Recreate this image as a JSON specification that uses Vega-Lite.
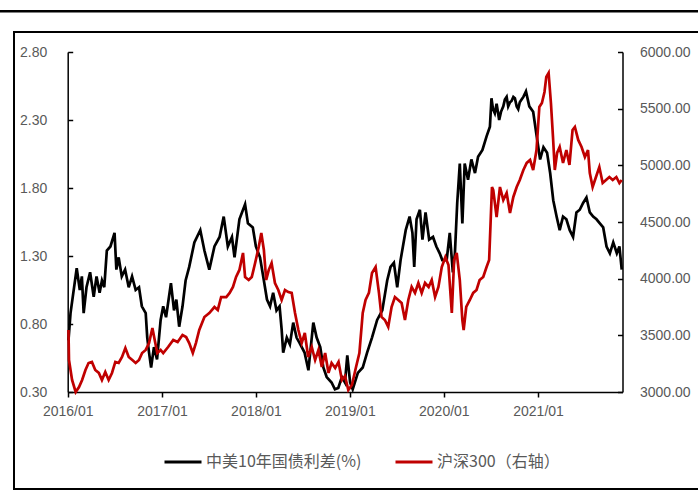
{
  "$schema": "https://vega.github.io/schema/vega-lite/v6.json",
  "width": 690,
  "height": 457,
  "autosize": {"type": "none"},
  "padding": {"left": 14, "top": 32, "right": 0, "bottom": 7},
  "background": "white",
  "config": {
    "view": {"stroke": "black", "strokeWidth": 2},
    "axis": {
      "grid": false,
      "domainColor": "black",
      "domainWidth": 1.5,
      "tickColor": "black",
      "tickWidth": 1.5,
      "labelColor": "#595959",
      "labelFontSize": 14,
      "labelFont": "Liberation Sans",
      "title": null
    }
  },
  "datasets": {
    "spread": [
      {"date":"2016-01-04","v":0.68},{"date":"2016-01-12","v":0.88},{"date":"2016-02-05","v":1.21},{"date":"2016-02-17","v":1.05},{"date":"2016-02-25","v":1.15},{"date":"2016-03-03","v":0.88},{"date":"2016-03-14","v":1.07},{"date":"2016-03-28","v":1.18},{"date":"2016-04-11","v":1.00},{"date":"2016-04-22","v":1.15},{"date":"2016-05-04","v":1.03},{"date":"2016-05-13","v":1.12},{"date":"2016-05-22","v":1.07},{"date":"2016-06-01","v":1.34},{"date":"2016-06-15","v":1.37},{"date":"2016-07-01","v":1.47},{"date":"2016-07-08","v":1.20},{"date":"2016-07-17","v":1.29},{"date":"2016-07-29","v":1.15},{"date":"2016-08-11","v":1.20},{"date":"2016-08-25","v":1.07},{"date":"2016-09-07","v":1.15},{"date":"2016-09-21","v":1.05},{"date":"2016-10-04","v":1.07},{"date":"2016-10-15","v":0.93},{"date":"2016-10-30","v":0.88},{"date":"2016-11-05","v":0.70},{"date":"2016-11-12","v":0.59},{"date":"2016-11-20","v":0.48},{"date":"2016-12-01","v":0.63},{"date":"2016-12-13","v":0.54},{"date":"2016-12-27","v":0.83},
      {"date":"2017-01-06","v":0.93},{"date":"2017-01-17","v":0.85},{"date":"2017-02-05","v":1.10},{"date":"2017-02-17","v":0.90},{"date":"2017-02-26","v":0.98},{"date":"2017-03-09","v":0.78},{"date":"2017-03-22","v":0.93},{"date":"2017-04-03","v":1.12},{"date":"2017-04-17","v":1.22},{"date":"2017-05-07","v":1.40},{"date":"2017-05-30","v":1.49},{"date":"2017-06-15","v":1.34},{"date":"2017-07-04","v":1.20},{"date":"2017-07-24","v":1.37},{"date":"2017-08-13","v":1.44},{"date":"2017-08-29","v":1.59},{"date":"2017-09-14","v":1.37},{"date":"2017-09-30","v":1.44},{"date":"2017-10-10","v":1.29},{"date":"2017-10-29","v":1.57},{"date":"2017-11-20","v":1.68},{"date":"2017-12-01","v":1.54},{"date":"2017-12-20","v":1.51},
      {"date":"2018-01-01","v":1.37},{"date":"2018-01-17","v":1.29},{"date":"2018-02-01","v":1.12},{"date":"2018-02-13","v":0.98},{"date":"2018-02-25","v":0.93},{"date":"2018-03-09","v":1.03},{"date":"2018-03-22","v":0.90},{"date":"2018-04-03","v":0.93},{"date":"2018-04-11","v":0.76},{"date":"2018-04-17","v":0.59},{"date":"2018-05-01","v":0.70},{"date":"2018-05-13","v":0.65},{"date":"2018-05-26","v":0.81},{"date":"2018-06-08","v":0.70},{"date":"2018-06-20","v":0.66},{"date":"2018-07-09","v":0.59},{"date":"2018-07-24","v":0.46},{"date":"2018-08-12","v":0.81},{"date":"2018-08-25","v":0.70},{"date":"2018-09-08","v":0.63},{"date":"2018-09-20","v":0.48},{"date":"2018-10-03","v":0.41},{"date":"2018-10-22","v":0.37},{"date":"2018-11-04","v":0.32},{"date":"2018-11-17","v":0.33},{"date":"2018-12-01","v":0.41},{"date":"2018-12-13","v":0.37},{"date":"2018-12-22","v":0.57},
      {"date":"2019-01-02","v":0.37},{"date":"2019-01-12","v":0.32},{"date":"2019-02-01","v":0.44},{"date":"2019-02-20","v":0.48},{"date":"2019-03-09","v":0.59},{"date":"2019-03-28","v":0.70},{"date":"2019-04-17","v":0.83},{"date":"2019-05-07","v":0.90},{"date":"2019-05-26","v":1.12},{"date":"2019-06-08","v":1.22},{"date":"2019-06-21","v":1.25},{"date":"2019-07-04","v":1.07},{"date":"2019-07-17","v":1.27},{"date":"2019-08-06","v":1.49},{"date":"2019-08-21","v":1.59},{"date":"2019-09-01","v":1.47},{"date":"2019-09-08","v":1.22},{"date":"2019-09-17","v":1.57},{"date":"2019-09-30","v":1.64},{"date":"2019-10-10","v":1.42},{"date":"2019-10-22","v":1.62},{"date":"2019-11-05","v":1.42},{"date":"2019-11-20","v":1.44},{"date":"2019-12-03","v":1.37},{"date":"2019-12-16","v":1.32},{"date":"2019-12-26","v":1.27},
      {"date":"2020-01-12","v":1.27},{"date":"2020-01-24","v":1.47},{"date":"2020-02-05","v":1.18},{"date":"2020-02-13","v":1.32},{"date":"2020-02-22","v":1.69},{"date":"2020-03-03","v":1.98},{"date":"2020-03-13","v":1.54},{"date":"2020-03-22","v":1.98},{"date":"2020-04-04","v":1.86},{"date":"2020-04-17","v":2.01},{"date":"2020-05-01","v":1.91},{"date":"2020-05-13","v":2.03},{"date":"2020-05-30","v":2.08},{"date":"2020-06-15","v":2.18},{"date":"2020-06-28","v":2.25},{"date":"2020-07-04","v":2.46},{"date":"2020-07-10","v":2.38},{"date":"2020-07-17","v":2.35},{"date":"2020-07-24","v":2.42},{"date":"2020-08-03","v":2.30},{"date":"2020-08-10","v":2.36},{"date":"2020-08-19","v":2.40},{"date":"2020-08-25","v":2.45},{"date":"2020-09-01","v":2.47},{"date":"2020-09-07","v":2.40},{"date":"2020-09-14","v":2.43},{"date":"2020-09-20","v":2.44},{"date":"2020-09-27","v":2.47},{"date":"2020-10-03","v":2.46},{"date":"2020-10-10","v":2.40},{"date":"2020-10-16","v":2.38},{"date":"2020-10-22","v":2.43},{"date":"2020-10-29","v":2.45},{"date":"2020-11-05","v":2.47},{"date":"2020-11-15","v":2.51},{"date":"2020-11-28","v":2.40},{"date":"2020-12-13","v":2.36},{"date":"2020-12-26","v":2.19},
      {"date":"2021-01-09","v":2.01},{"date":"2021-01-22","v":2.10},{"date":"2021-02-05","v":2.06},{"date":"2021-02-17","v":1.91},{"date":"2021-03-01","v":1.71},{"date":"2021-03-14","v":1.59},{"date":"2021-03-26","v":1.49},{"date":"2021-04-08","v":1.59},{"date":"2021-04-21","v":1.57},{"date":"2021-05-04","v":1.49},{"date":"2021-05-17","v":1.44},{"date":"2021-05-30","v":1.62},{"date":"2021-06-12","v":1.64},{"date":"2021-06-25","v":1.69},{"date":"2021-07-08","v":1.73},{"date":"2021-07-21","v":1.62},{"date":"2021-08-03","v":1.59},{"date":"2021-08-16","v":1.57},{"date":"2021-08-29","v":1.54},{"date":"2021-09-11","v":1.51},{"date":"2021-09-24","v":1.37},{"date":"2021-10-07","v":1.32},{"date":"2021-10-20","v":1.40},{"date":"2021-11-03","v":1.32},{"date":"2021-11-13","v":1.37},{"date":"2021-11-22","v":1.20}
    ],
    "csi": [
      {"date":"2016-01-04","v":3547},{"date":"2016-01-06","v":3282},{"date":"2016-01-18","v":3106},{"date":"2016-02-01","v":3000},{"date":"2016-02-14","v":3044},{"date":"2016-02-26","v":3106},{"date":"2016-03-10","v":3194},{"date":"2016-03-22","v":3256},{"date":"2016-04-04","v":3265},{"date":"2016-04-17","v":3194},{"date":"2016-05-01","v":3168},{"date":"2016-05-13","v":3106},{"date":"2016-05-26","v":3176},{"date":"2016-06-08","v":3106},{"date":"2016-06-21","v":3168},{"date":"2016-07-04","v":3265},{"date":"2016-07-17","v":3256},{"date":"2016-07-30","v":3309},{"date":"2016-08-12","v":3388},{"date":"2016-08-25","v":3309},{"date":"2016-09-08","v":3282},{"date":"2016-09-21","v":3256},{"date":"2016-10-04","v":3282},{"date":"2016-10-16","v":3344},{"date":"2016-10-30","v":3371},{"date":"2016-11-12","v":3432},{"date":"2016-11-25","v":3565},{"date":"2016-12-04","v":3459},{"date":"2016-12-14","v":3344},{"date":"2016-12-27","v":3371},
      {"date":"2017-01-06","v":3344},{"date":"2017-01-25","v":3397},{"date":"2017-02-14","v":3459},{"date":"2017-03-03","v":3441},{"date":"2017-03-22","v":3503},{"date":"2017-04-05","v":3485},{"date":"2017-04-17","v":3432},{"date":"2017-05-01","v":3344},{"date":"2017-05-13","v":3432},{"date":"2017-05-26","v":3547},{"date":"2017-06-15","v":3662},{"date":"2017-07-04","v":3697},{"date":"2017-07-24","v":3750},{"date":"2017-08-06","v":3724},{"date":"2017-08-19","v":3838},{"date":"2017-09-08","v":3838},{"date":"2017-09-21","v":3874},{"date":"2017-10-04","v":3927},{"date":"2017-10-16","v":4015},{"date":"2017-10-29","v":4077},{"date":"2017-11-12","v":4227},{"date":"2017-11-20","v":4015},{"date":"2017-12-04","v":3988},{"date":"2017-12-16","v":4015},{"date":"2017-12-29","v":4138},
      {"date":"2018-01-12","v":4279},{"date":"2018-01-22","v":4403},{"date":"2018-02-01","v":4253},{"date":"2018-02-10","v":3988},{"date":"2018-02-20","v":4077},{"date":"2018-03-03","v":4138},{"date":"2018-03-16","v":3962},{"date":"2018-03-29","v":3900},{"date":"2018-04-11","v":3812},{"date":"2018-04-24","v":3900},{"date":"2018-05-07","v":3882},{"date":"2018-05-20","v":3874},{"date":"2018-06-02","v":3697},{"date":"2018-06-15","v":3547},{"date":"2018-06-28","v":3432},{"date":"2018-07-10","v":3521},{"date":"2018-07-23","v":3309},{"date":"2018-08-06","v":3397},{"date":"2018-08-19","v":3282},{"date":"2018-09-01","v":3371},{"date":"2018-09-14","v":3221},{"date":"2018-09-27","v":3344},{"date":"2018-10-10","v":3168},{"date":"2018-10-22","v":3256},{"date":"2018-11-05","v":3212},{"date":"2018-11-18","v":3265},{"date":"2018-12-01","v":3106},{"date":"2018-12-13","v":3141},{"date":"2018-12-26","v":3018},
      {"date":"2019-01-09","v":3062},{"date":"2019-01-25","v":3221},{"date":"2019-02-07","v":3344},{"date":"2019-02-20","v":3697},{"date":"2019-03-03","v":3812},{"date":"2019-03-16","v":3874},{"date":"2019-03-28","v":4050},{"date":"2019-04-11","v":4103},{"date":"2019-04-24","v":3874},{"date":"2019-05-04","v":3662},{"date":"2019-05-17","v":3635},{"date":"2019-05-30","v":3574},{"date":"2019-06-12","v":3750},{"date":"2019-06-25","v":3838},{"date":"2019-07-08","v":3812},{"date":"2019-07-21","v":3785},{"date":"2019-08-03","v":3635},{"date":"2019-08-16","v":3812},{"date":"2019-08-29","v":3927},{"date":"2019-09-11","v":3874},{"date":"2019-09-24","v":3962},{"date":"2019-10-07","v":3874},{"date":"2019-10-20","v":3962},{"date":"2019-11-03","v":3927},{"date":"2019-11-15","v":3988},{"date":"2019-11-28","v":3838},{"date":"2019-12-11","v":3927},{"date":"2019-12-24","v":4103},
      {"date":"2020-01-07","v":4191},{"date":"2020-01-19","v":4121},{"date":"2020-02-01","v":3697},{"date":"2020-02-10","v":4165},{"date":"2020-02-20","v":4227},{"date":"2020-03-03","v":3988},{"date":"2020-03-13","v":3635},{"date":"2020-03-18","v":3547},{"date":"2020-03-28","v":3750},{"date":"2020-04-11","v":3812},{"date":"2020-04-24","v":3874},{"date":"2020-05-07","v":3900},{"date":"2020-05-19","v":3988},{"date":"2020-06-02","v":4015},{"date":"2020-06-15","v":4103},{"date":"2020-06-25","v":4165},{"date":"2020-07-06","v":4809},{"date":"2020-07-11","v":4782},{"date":"2020-07-24","v":4544},{"date":"2020-08-06","v":4809},{"date":"2020-08-19","v":4694},{"date":"2020-09-01","v":4756},{"date":"2020-09-14","v":4579},{"date":"2020-09-27","v":4721},{"date":"2020-10-10","v":4809},{"date":"2020-10-22","v":4871},{"date":"2020-11-05","v":4959},{"date":"2020-11-18","v":5021},{"date":"2020-12-01","v":5047},{"date":"2020-12-13","v":4959},{"date":"2020-12-26","v":5135},
      {"date":"2021-01-06","v":5515},{"date":"2021-01-16","v":5550},{"date":"2021-01-26","v":5647},{"date":"2021-02-02","v":5780},{"date":"2021-02-11","v":5815},{"date":"2021-02-20","v":5550},{"date":"2021-02-28","v":5250},{"date":"2021-03-07","v":4959},{"date":"2021-03-16","v":5109},{"date":"2021-03-26","v":5162},{"date":"2021-04-08","v":5021},{"date":"2021-04-21","v":5135},{"date":"2021-05-03","v":5003},{"date":"2021-05-15","v":5312},{"date":"2021-05-24","v":5338},{"date":"2021-06-06","v":5224},{"date":"2021-06-19","v":5162},{"date":"2021-07-02","v":5074},{"date":"2021-07-14","v":5135},{"date":"2021-07-21","v":4932},{"date":"2021-08-01","v":4809},{"date":"2021-08-14","v":4897},{"date":"2021-08-27","v":4985},{"date":"2021-09-09","v":4844},{"date":"2021-09-22","v":4871},{"date":"2021-10-05","v":4897},{"date":"2021-10-18","v":4871},{"date":"2021-11-01","v":4897},{"date":"2021-11-13","v":4844},{"date":"2021-11-22","v":4871}
    ]
  },
  "layer": [
    {
      "layer": [
        {
          "data": {"name": "spread"},
          "mark": {"type": "line", "strokeWidth": 2.7},
          "encoding": {
            "x": {
              "field": "date", "type": "temporal",
              "scale": {"domain": [{"year": 2016, "month": 1, "date": 1}, {"year": 2021, "month": 11, "date": 25}], "range": [53.7, 608.5]},
              "axis": {
                "orient": "bottom", "offset": -97,
                "values": [{"year": 2016, "month": 1, "date": 1}, {"year": 2017, "month": 1, "date": 1}, {"year": 2018, "month": 1, "date": 1}, {"year": 2019, "month": 1, "date": 1}, {"year": 2020, "month": 1, "date": 1}, {"year": 2021, "month": 1, "date": 1}],
                "format": "%Y/%m", "tickSize": 5, "labelPadding": 7, "labelFlush": false, "labelOverlap": false
              }
            },
            "y": {
              "field": "v", "type": "quantitative",
              "scale": {"domain": [0.3, 2.8], "range": [360, 20], "zero": false, "nice": false},
              "axis": {"orient": "left", "offset": -53.7, "values": [0.3, 0.8, 1.3, 1.8, 2.3, 2.8], "format": ".2f", "tickSize": -5, "labelPadding": 26, "labelFlush": false}
            },
            "color": {
              "datum": "中美10年国债利差(%)", "type": "nominal",
              "scale": {"domain": ["中美10年国债利差(%)", "沪深300（右轴）"], "range": ["#000000", "#C00000"]},
              "legend": {
                "title": null, "orient": "none", "legendX": 149, "legendY": 410, "direction": "horizontal",
                "symbolType": "stroke", "symbolSize": 1369, "symbolStrokeWidth": 3,
                "labelFont": "Noto Sans CJK SC", "labelFontSize": 16, "labelColor": "#595959",
                "labelOffset": 3, "columnPadding": 27, "padding": 0
              }
            }
          }
        },
        {
          "data": {"values": [{}]},
          "mark": {"type": "rule", "stroke": "black", "strokeWidth": 2.5},
          "encoding": {
            "x": {"datum": {"year": 2015, "month": 3, "date": 1}, "type": "temporal"},
            "x2": {"datum": {"year": 2022, "month": 12, "date": 1}},
            "y": {"datum": 3.1, "type": "quantitative"}
          }
        }
      ]
    },
    {
      "data": {"name": "csi"},
      "mark": {"type": "line", "strokeWidth": 2.7},
      "encoding": {
        "x": {"field": "date", "type": "temporal"},
        "y": {
          "field": "v", "type": "quantitative",
          "scale": {"domain": [3000, 6000], "range": [360, 20], "zero": false, "nice": false},
          "axis": {"orient": "right", "offset": -81.5, "values": [3000, 3500, 4000, 4500, 5000, 5500, 6000], "format": ".2f", "tickSize": -5, "labelPadding": 22, "labelFlush": false}
        },
        "color": {"datum": "沪深300（右轴）", "type": "nominal"}
      }
    }
  ],
  "resolve": {"scale": {"y": "independent"}}
}
